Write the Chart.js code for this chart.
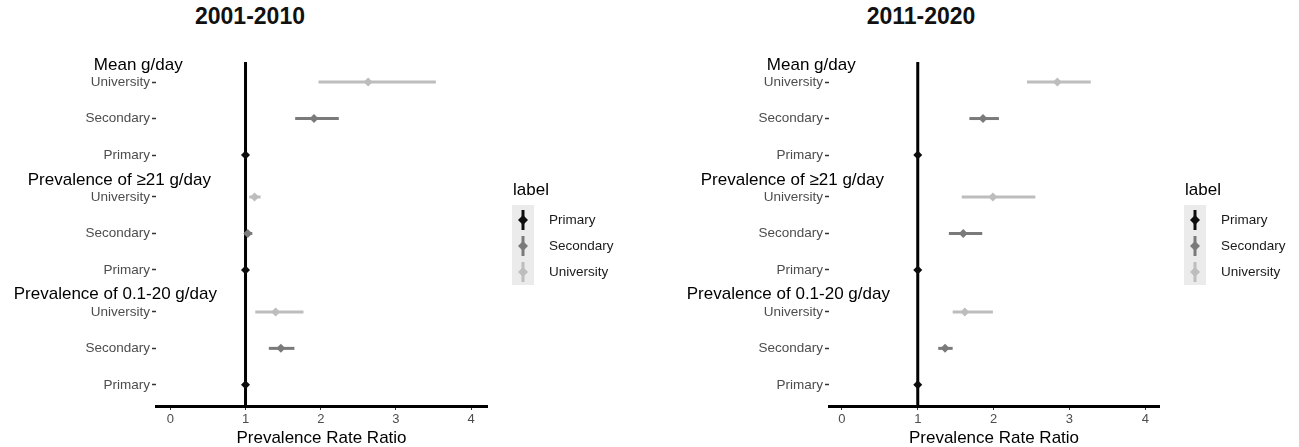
<!DOCTYPE html>
<html>
<head>
<meta charset="utf-8">
<script src="https://cdn.jsdelivr.net/npm/chart.js@4.4.1/dist/chart.umd.min.js"></script>
<style>
  html, body { margin:0; padding:0; background:#fff; }
  body { width:1299px; height:447px; position:relative; overflow:hidden; font-family:'Liberation Sans', Arial, sans-serif; }
  .panel { position:absolute; top:0; height:447px; }
  .title { position:absolute; top:5px; font-weight:bold; font-size:23px; line-height:22px; color:#111; transform:translateX(-50%); white-space:nowrap; }
</style>
</head>
<body>
<div class="title" style="left:250px">2001-2010</div>
<div class="title" style="left:921px">2011-2020</div>
<div class="panel" style="left:0;width:650px"><canvas id="c1" width="650" height="447"></canvas></div>
<div class="panel" style="left:650px;width:649px"><canvas id="c2" width="649" height="447"></canvas></div>
<script>
// ---------- DATA ----------
const GROUPS = ["Mean g/day", "Prevalence of \u226521 g/day", "Prevalence of 0.1-20 g/day"];
const LEVELS = ["University", "Secondary", "Primary"];      // row order inside each group (top to bottom)
const LEGEND_ORDER = ["Primary", "Secondary", "University"];
const X_TICKS = [0, 1, 2, 3, 4];
const REF_VALUE = 1;
const X_TITLE = "Prevalence Rate Ratio";
const LEGEND_TITLE = "label";

// 2001-2010 (estimate, lower, upper) per group
const P1_UNIVERSITY_EST = [2.63, 1.12, 1.40];
const P1_UNIVERSITY_LO  = [1.97, 1.05, 1.13];
const P1_UNIVERSITY_HI  = [3.53, 1.20, 1.77];
const P1_SECONDARY_EST  = [1.91, 1.03, 1.47];
const P1_SECONDARY_LO   = [1.66, 0.99, 1.31];
const P1_SECONDARY_HI   = [2.24, 1.09, 1.65];
const P1_PRIMARY_EST    = [1, 1, 1];
const P1_PRIMARY_LO     = [1, 1, 1];
const P1_PRIMARY_HI     = [1, 1, 1];

// 2011-2020
const P2_UNIVERSITY_EST = [2.84, 1.99, 1.62];
const P2_UNIVERSITY_LO  = [2.44, 1.58, 1.46];
const P2_UNIVERSITY_HI  = [3.28, 2.55, 1.99];
const P2_SECONDARY_EST  = [1.86, 1.60, 1.36];
const P2_SECONDARY_LO   = [1.68, 1.41, 1.27];
const P2_SECONDARY_HI   = [2.07, 1.85, 1.46];
const P2_PRIMARY_EST    = [1, 1, 1];
const P2_PRIMARY_LO     = [1, 1, 1];
const P2_PRIMARY_HI     = [1, 1, 1];

// ---------- STYLE / LAYOUT ----------
const COLORS = { Primary: "#0d0d0d", Secondary: "#7a7a7a", University: "#bdbdbd" };
const GROUP_STEP = 3.15;
const FONT = "'Liberation Sans', Arial, Helvetica, sans-serif";
Chart.defaults.font.family = FONT;

function rowPos(g, l) { return g * GROUP_STEP + l; }

function buildDatasets(series) {
  return LEGEND_ORDER.map(level => {
    const l = LEVELS.indexOf(level);
    const s = series[level];
    return {
      label: level,
      data: GROUPS.map((g, i) => ({ x: s.est[i], y: rowPos(i, l), lo: s.lo[i], hi: s.hi[i] })),
      borderColor: COLORS[level],
      backgroundColor: COLORS[level],
      pointStyle: 'rectRot',
      pointRadius: 4.5,
      pointBorderWidth: 0,
      showLine: false
    };
  });
}

const forestPlugin = {
  id: 'forest',
  beforeDatasetsDraw(chart) {
    const { ctx, chartArea, scales: { x, y } } = chart;
    ctx.save();
    const xr = x.getPixelForValue(REF_VALUE);
    ctx.strokeStyle = '#000';
    ctx.lineWidth = 3;
    ctx.beginPath(); ctx.moveTo(xr, chartArea.top); ctx.lineTo(xr, chartArea.bottom); ctx.stroke();
    chart.data.datasets.forEach(ds => {
      ctx.strokeStyle = ds.borderColor;
      ctx.lineWidth = 3;
      ds.data.forEach(d => {
        const py = y.getPixelForValue(d.y);
        ctx.beginPath();
        ctx.moveTo(x.getPixelForValue(d.lo), py);
        ctx.lineTo(x.getPixelForValue(d.hi), py);
        ctx.stroke();
      });
    });
    ctx.restore();
  },
  afterDraw(chart) {
    const { ctx, chartArea, scales: { y } } = chart;
    ctx.save();
    // group headers
    ctx.font = "17px " + FONT;
    ctx.fillStyle = '#000';
    ctx.textBaseline = 'middle';
    ctx.textAlign = 'left';
    GROUPS.forEach((g, i) => {
      const w = ctx.measureText(g).width;
      ctx.fillText(g, chartArea.left - 0.7 * w, y.getPixelForValue(rowPos(i, 0) - 0.47));
    });
    // legend
    const lx = chartArea.right + 26;
    ctx.fillText(LEGEND_TITLE, lx, 190);
    const keyX = chartArea.right + 25, keyW = 22;
    ctx.fillStyle = '#ebebeb';
    ctx.fillRect(keyX, 205, keyW, 80);
    const cx = keyX + keyW / 2;
    const ys = [220, 246, 272];
    chart.data.datasets.forEach((ds, i) => {
      const yy = ys[i];
      ctx.strokeStyle = ds.borderColor;
      ctx.lineWidth = 3;
      ctx.beginPath(); ctx.moveTo(cx, yy - 10); ctx.lineTo(cx, yy + 10); ctx.stroke();
      ctx.fillStyle = ds.backgroundColor;
      ctx.beginPath();
      ctx.moveTo(cx, yy - 5); ctx.lineTo(cx + 5, yy); ctx.lineTo(cx, yy + 5); ctx.lineTo(cx - 5, yy); ctx.closePath(); ctx.fill();
      ctx.fillStyle = '#1a1a1a';
      ctx.font = "13.5px " + FONT;
      ctx.fillText(ds.label, chartArea.right + 62, yy);
    });
    ctx.restore();
  }
};

function makeChart(id, series, yAxisWidth, padRight, xmin, xmax) {
  const tickLabels = GROUPS.flatMap(() => LEVELS);
  const tickValues = GROUPS.flatMap((g, i) => LEVELS.map((lv, l) => rowPos(i, l)));
  return new Chart(document.getElementById(id), {
    type: 'scatter',
    data: { datasets: buildDatasets(series) },
    plugins: [forestPlugin],
    options: {
      responsive: false,
      animation: false,
      layout: { padding: { left: 0, top: 62, right: padRight, bottom: 0 } },
      plugins: { legend: { display: false }, tooltip: { enabled: false }, title: { display: false } },
      scales: {
        x: {
          type: 'linear', min: xmin, max: xmax,
          afterBuildTicks: s => { s.ticks = X_TICKS.map(v => ({ value: v })); },
          afterFit: s => { s.height = 41; },
          border: { display: true, color: '#000', width: 3 },
          grid: { drawOnChartArea: false, drawTicks: true, tickLength: 4, color: '#333', tickWidth: 1 },
          ticks: { color: '#4d4d4d', font: { size: 13 }, padding: 2, callback: v => String(v) },
          title: { display: true, text: X_TITLE, color: '#000', font: { size: 17, lineHeight: 1 }, padding: { top: 0, bottom: 0 } }
        },
        y: {
          type: 'linear', reverse: true, min: -0.55, max: 8.88,
          afterBuildTicks: s => { s.ticks = tickValues.map(v => ({ value: v })); },
          afterFit: s => { s.width = yAxisWidth; },
          border: { display: false },
          grid: { drawOnChartArea: false, drawTicks: true, tickLength: 4, color: '#333', tickWidth: 1.5 },
          ticks: { color: '#4d4d4d', font: { size: 13.5 }, padding: 2, autoSkip: false,
                   callback: (v, i) => tickLabels[i] }
        }
      }
    }
  });
}

makeChart('c1', {
  University: { est: P1_UNIVERSITY_EST, lo: P1_UNIVERSITY_LO, hi: P1_UNIVERSITY_HI },
  Secondary:  { est: P1_SECONDARY_EST,  lo: P1_SECONDARY_LO,  hi: P1_SECONDARY_HI },
  Primary:    { est: P1_PRIMARY_EST,    lo: P1_PRIMARY_LO,    hi: P1_PRIMARY_HI }
}, 156, 163, -0.19, 4.21);

makeChart('c2', {
  University: { est: P2_UNIVERSITY_EST, lo: P2_UNIVERSITY_LO, hi: P2_UNIVERSITY_HI },
  Secondary:  { est: P2_SECONDARY_EST,  lo: P2_SECONDARY_LO,  hi: P2_SECONDARY_HI },
  Primary:    { est: P2_PRIMARY_EST,    lo: P2_PRIMARY_LO,    hi: P2_PRIMARY_HI }
}, 179, 140, -0.17, 4.18);
</script>
</body>
</html>
